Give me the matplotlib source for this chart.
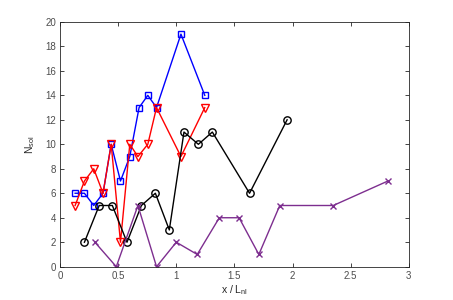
import matplotlib
matplotlib.use("Agg")
import matplotlib.pyplot as plt

plt.rcParams['font.family'] = ['Liberation Sans', 'DejaVu Sans']

blue_x = [0.13, 0.21, 0.29, 0.37, 0.44, 0.52, 0.60, 0.68, 0.755, 0.83, 1.04, 1.245]
blue_y = [6, 6, 5, 6, 10, 7, 9, 13, 14, 13, 19, 14]

red_x = [0.13, 0.21, 0.29, 0.37, 0.44, 0.52, 0.60, 0.67, 0.755, 0.83, 1.04, 1.245]
red_y = [5, 7, 8, 6, 10, 2, 10, 9, 10, 13, 9, 13]

black_x = [0.21, 0.337, 0.45, 0.576, 0.70, 0.82, 0.94, 1.066, 1.19, 1.31, 1.63, 1.953]
black_y = [2, 5, 5, 2, 5, 6, 3, 11, 10, 11, 6, 12]

purple_x = [0.30, 0.484, 0.67, 0.83, 1.00, 1.18, 1.37, 1.54, 1.71, 1.89, 2.35, 2.82]
purple_y = [2, 0, 5, 0, 2, 1, 4, 4, 1, 5, 5, 7]

xticks = [0, 0.5, 1, 1.5, 2, 2.5, 3]
xticklabels = ['0', '0.5', '1', '1.5', '2', '2.5', '3']
yticks = list(range(0, 21, 2))

fig = plt.figure(figsize=(4.53, 3.0), dpi=100)
ax = fig.add_axes([0.1325, 0.111, 0.770, 0.816])

purple = (0.49, 0.18, 0.56)
ax.plot(blue_x, blue_y, color='blue', marker='s', ms=4.3, mfc='none', mew=1, lw=1)
ax.plot(red_x, red_y, color='red', marker='v', ms=5.5, mfc='none', mew=1, lw=1)
ax.plot(black_x, black_y, color='black', marker='o', ms=5.3, mfc='none', mew=1, lw=1)
ax.plot(purple_x, purple_y, color=purple, marker='x', ms=4, mew=1, lw=1)

ax.set_xlim(0, 3)
ax.set_ylim(0, 20)
ax.set_xticks(xticks)
ax.set_xticklabels(xticklabels)
ax.set_yticks(yticks)

gray = (0.15, 0.15, 0.15)
for s in ax.spines.values():
    s.set_color(gray)
    s.set_linewidth(0.6)
ax.tick_params(direction='in', length=3, width=0.6, colors=gray, labelsize=7,
               top=True, right=True, pad=3)
for lab in ax.get_xticklabels() + ax.get_yticklabels():
    lab.set_color((0.3, 0.3, 0.3))

ax.set_xlabel(r'x / L$_{\mathregular{nl}}$', fontsize=7.5, color=gray, labelpad=2)
ax.set_ylabel(r'N$_{\mathregular{sol}}$', fontsize=7.5, color=gray, labelpad=6)

fig.savefig('out.png', dpi=100)
